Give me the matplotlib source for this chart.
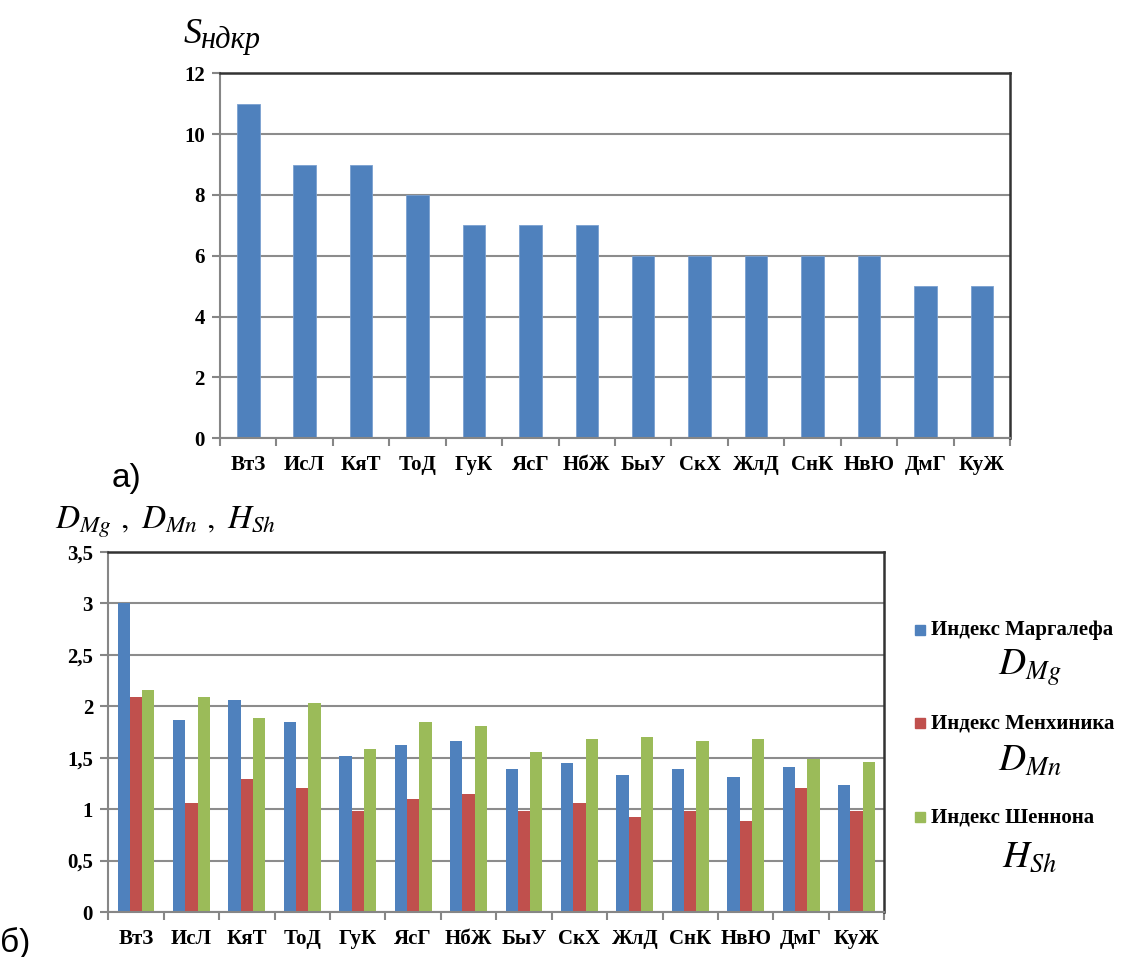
import numpy as np
import matplotlib
matplotlib.use('Agg')
import matplotlib.pyplot as plt
from matplotlib.patches import Rectangle

# данные
sites = ['ВтЗ', 'ИсЛ', 'КяТ', 'ТоД', 'ГуК', 'ЯсГ', 'НбЖ', 'БыУ', 'СкХ', 'ЖлД', 'СнК', 'НвЮ', 'ДмГ', 'КуЖ']
s_ndkr = [11, 9, 9, 8, 7, 7, 7, 6, 6, 6, 6, 6, 5, 5]
d_mg = [3.0, 1.87, 2.06, 1.85, 1.52, 1.62, 1.66, 1.39, 1.45, 1.33, 1.39, 1.31, 1.41, 1.23]
d_mn = [2.09, 1.06, 1.29, 1.21, 0.98, 1.10, 1.15, 0.98, 1.06, 0.92, 0.98, 0.88, 1.21, 0.98]
h_sh = [2.16, 2.09, 1.89, 2.03, 1.58, 1.85, 1.81, 1.56, 1.68, 1.70, 1.66, 1.68, 1.49, 1.46]
top_ticks = [0, 2, 4, 6, 8, 10, 12]
bot_ticks = [0, 0.5, 1, 1.5, 2, 2.5, 3, 3.5]
bot_ticklabels = ['0', '0,5', '1', '1,5', '2', '2,5', '3', '3,5']
series_names = ['Индекс Маргалефа', 'Индекс Менхиника', 'Индекс Шеннона']
series_math = [r'$D_{Mg}$', r'$D_{Mn}$', r'$H_{Sh}$']
colors = ['#4F81BD', '#C0504D', '#9BBB59']

plt.rcParams['font.family'] = ['Liberation Serif', 'DejaVu Serif']
plt.rcParams['mathtext.fontset'] = 'stix'

W, H = 1135, 957
fig = plt.figure(figsize=(W / 100, H / 100), dpi=100)


def fx(px):
    return px / W


def fy(py):
    return 1 - py / H


def style_axes(ax, n):
    ax.set_xlim(0, n)
    ax.set_xticks(np.arange(n + 1))
    ax.set_xticklabels([])
    ax.set_xticks(np.arange(n) + 0.5, minor=True)
    ax.set_xticklabels(sites, minor=True, fontsize=15, fontweight='bold')
    ax.tick_params(axis='x', which='minor', length=0, pad=12)
    ax.tick_params(axis='x', which='major', length=6, color='#868686', width=1.5)
    ax.tick_params(axis='y', length=6, color='#868686', width=1.5, pad=5)
    for lab in ax.get_yticklabels():
        lab.set_fontweight('bold')
        lab.set_fontsize(15)
    ax.grid(axis='y', color='#8c8c8c', linewidth=1.5)
    ax.set_axisbelow(True)
    ax.spines['left'].set_color('#868686')
    ax.spines['bottom'].set_color('#868686')
    ax.spines['left'].set_linewidth(1.5)
    ax.spines['bottom'].set_linewidth(1.5)
    ax.spines['top'].set_color('#333333')
    ax.spines['right'].set_color('#333333')
    ax.spines['top'].set_linewidth(1.8)
    ax.spines['right'].set_linewidth(1.8)


# а) верхний график
ax1 = fig.add_axes([fx(220), fy(438.3), fx(1010 - 220), (438.3 - 73.3) / H])
x = np.arange(len(sites)) + 0.5
ax1.bar(x, s_ndkr, width=0.4, color=colors[0], edgecolor='#7aa0d0', linewidth=0.6)
ax1.set_ylim(0, 12)
ax1.set_yticks(top_ticks)
ax1.set_yticklabels([str(t) for t in top_ticks])
style_axes(ax1, len(sites))

# б) нижний график
ax2 = fig.add_axes([fx(108.3), fy(912), fx(884.3 - 108.3), (912 - 552) / H])
bw = 1 / 4.5
for i, vals in enumerate([d_mg, d_mn, h_sh]):
    ax2.bar(x + (i - 1) * bw, vals, width=bw, color=colors[i], linewidth=0)
ax2.set_ylim(0, 3.5)
ax2.set_yticks(bot_ticks)
ax2.set_yticklabels(bot_ticklabels)
style_axes(ax2, len(sites))

# подписи осей
fig.text(fx(184), fy(43), 'S', fontsize=26, style='italic', va='baseline')
fig.text(fx(201), fy(48), 'ндкр', fontsize=22, style='italic', va='baseline')
fig.text(fx(55), fy(528), r'$D_{Mg}\ ,\ D_{Mn}\ ,\ H_{Sh}$', fontsize=24, va='baseline')

fig.text(fx(112), fy(487), 'а)', fontsize=24, family='Liberation Sans', va='baseline')
fig.text(fx(0), fy(952), 'б)', fontsize=24, family='Liberation Sans', va='baseline')

# легенда
leg_y = [630, 723, 817]
math_y = [668, 762, 858]
for i in range(3):
    fig.add_artist(Rectangle((fx(915), fy(leg_y[i] + 5)), 10 / W, 10 / H,
                             transform=fig.transFigure, color=colors[i]))
    fig.text(fx(931), fy(leg_y[i]), series_names[i], fontsize=15, fontweight='bold',
             va='center')
    fig.text(fx(1030), fy(math_y[i]), series_math[i], fontsize=27, ha='center',
             va='center')

fig.savefig('out.png', dpi=100)
